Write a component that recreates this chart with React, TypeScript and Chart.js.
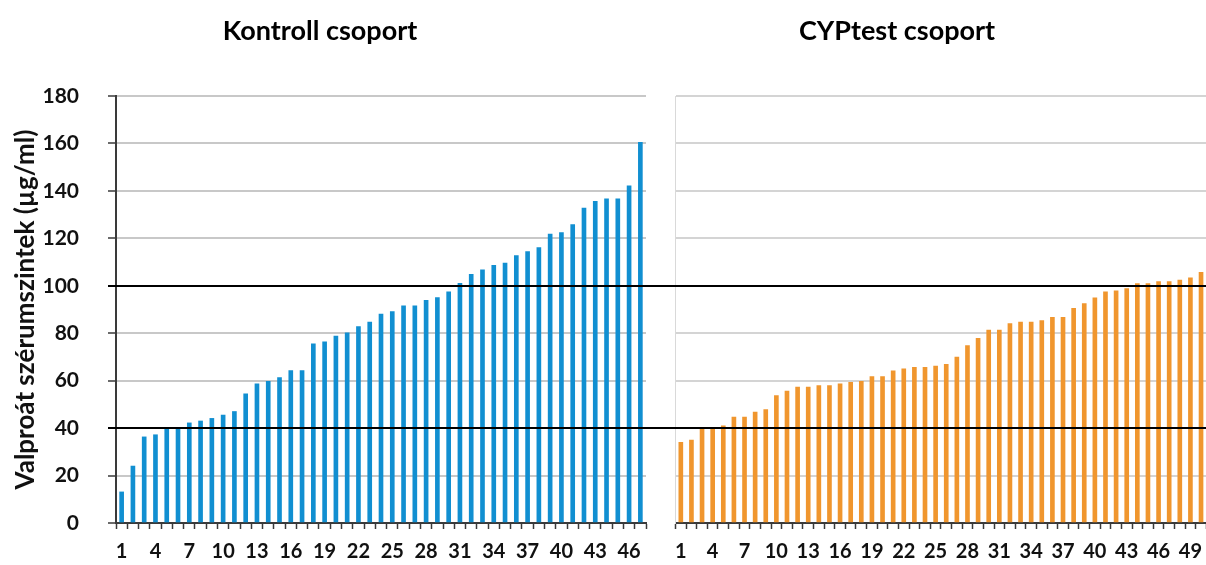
import React, { useEffect, useRef } from "react";
import { Chart, registerables } from "chart.js";

Chart.register(...registerables);

const TITLE_LEFT = "Kontroll csoport";
const TITLE_RIGHT = "CYPtest csoport";
const Y_TITLE = "Valproát szérumszintek (µg/ml)";

const KONTROLL_VALUES = [
  13.1, 24, 36.3, 37.2, 40.3, 40.3, 42.2, 43, 44.1, 45.5, 47, 54.4, 58.7, 59.7,
  61.3, 64.2, 64.2, 75.5, 76.4, 78.8, 80.2, 82.8, 84.7, 88.1, 89.1, 91.5, 91.5,
  93.9, 95, 97.4, 101, 104.8, 106.7, 108.6, 109.6, 112.7, 114.4, 116.1, 121.8,
  122.4, 125.8, 132.8, 135.6, 136.6, 136.6, 142.1, 160.5,
];

const CYP_VALUES = [
  34, 35, 39.8, 40.2, 41, 44.7, 44.7, 46.8, 47.8, 53.7, 55.6, 57.3, 57.3, 57.9,
  57.9, 58.7, 59.3, 59.7, 61.7, 61.7, 64.1, 65, 65.6, 65.6, 66.2, 66.9, 69.9,
  74.8, 77.8, 81.3, 81.3, 84.1, 84.7, 84.7, 85.3, 86.7, 86.7, 90.5, 92.5, 94.9,
  97.4, 97.9, 98.8, 100.9, 100.9, 101.8, 101.8, 102.4, 103.4, 105.7,
];

const KONTROLL_LABELS = KONTROLL_VALUES.map((_, i) => String(i + 1));
const CYP_LABELS = CYP_VALUES.map((_, i) => String(i + 1));

const REF_LINES = [40, 100];
const Y_MIN = 0;
const Y_MAX = 180;
const Y_STEP = 20;

const FONT = "Lato, 'Open Sans', sans-serif";

const refLinePlugin = {
  id: "refLines",
  afterDatasetsDraw(chart: any, _args: any, opts: any) {
    const y = chart.scales.y;
    const ctx = chart.ctx;
    ctx.save();
    ctx.strokeStyle = "#000";
    ctx.lineWidth = 2;
    const startX = opts.fromAxis ? chart.chartArea.left - 8 : 0;
    for (const v of REF_LINES) {
      const py = Math.round(y.getPixelForValue(v));
      ctx.beginPath();
      ctx.moveTo(startX, py);
      ctx.lineTo(chart.width, py);
      ctx.stroke();
    }
    ctx.restore();
  },
};

const panelTitlePlugin = {
  id: "panelTitle",
  afterDraw(chart: any, _args: any, opts: any) {
    const ctx = chart.ctx;
    ctx.save();
    ctx.font = `bold 27px ${FONT}`;
    ctx.fillStyle = "#000";
    ctx.textAlign = "center";
    ctx.textBaseline = "middle";
    ctx.fillText(opts.text, opts.x, opts.y);
    ctx.restore();
  },
};

function makeConfig(
  labels: string[],
  values: number[],
  color: string,
  left: boolean,
  titleText: string,
  titleX: number
): any {
  return {
    type: "bar",
    data: {
      labels,
      datasets: [
        {
          data: values,
          backgroundColor: color,
          borderWidth: 0,
          barThickness: 4,
        },
      ],
    },
    plugins: [refLinePlugin, panelTitlePlugin],
    options: {
      responsive: false,
      animation: false,
      devicePixelRatio: 1,
      layout: {
        padding: { top: 96, bottom: 0, left: left ? 0 : 8, right: left ? 26 : 0 },
      },
      plugins: {
        legend: { display: false },
        tooltip: { enabled: false },
        title: { display: false },
        refLines: { fromAxis: left },
        panelTitle: { text: titleText, x: titleX, y: 31 },
      },
      scales: {
        x: {
          offset: true,
          grid: {
            offset: true,
            drawOnChartArea: false,
            drawTicks: true,
            tickLength: 6,
            tickColor: "#3a3a3a",
            tickWidth: 1.5,
          },
          border: { color: "#3a3a3a", width: 2 },
          ticks: {
            autoSkip: false,
            maxRotation: 0,
            minRotation: 0,
            padding: 11,
            color: "#111",
            font: { family: FONT, size: 20, weight: "bold" },
            callback: (_v: any, i: number) => (i % 3 === 0 ? labels[i] : ""),
          },
          afterFit: (s: any) => {
            s.height = 42;
          },
        },
        y: {
          min: Y_MIN,
          max: Y_MAX,
          grid: {
            color: left ? "#c8c8c8" : "#d4d4d4",
            lineWidth: 2,
            drawTicks: left,
            tickLength: 8,
            tickColor: "#3a3a3a",
            tickWidth: 1.5,
          },
          border: left
            ? { color: "#3a3a3a", width: 2 }
            : { color: "#d9d9d9", width: 1 },
          ticks: {
            display: left,
            stepSize: Y_STEP,
            padding: 29,
            color: "#111",
            font: { family: FONT, size: 21, weight: "bold" },
          },
          title: {
            display: left,
            text: Y_TITLE,
            color: "#111",
            font: { family: FONT, size: 26, weight: "bold" },
            padding: { top: 10, bottom: 0 },
          },
          afterFit: (s: any) => {
            s.width = left ? 116 : 0;
          },
        },
      },
    },
  };
}

function Panel(props: {
  left: number;
  width: number;
  labels: string[];
  values: number[];
  color: string;
  isLeft: boolean;
  title: string;
  titleX: number;
}) {
  const ref = useRef<HTMLCanvasElement | null>(null);
  useEffect(() => {
    if (!ref.current) return;
    const chart = new Chart(
      ref.current,
      makeConfig(props.labels, props.values, props.color, props.isLeft, props.title, props.titleX)
    );
    return () => chart.destroy();
  }, []);
  return (
    <div style={{ position: "absolute", left: props.left, top: 0, width: props.width, height: 565 }}>
      <canvas ref={ref} width={props.width} height={565} style={{ display: "block" }} />
    </div>
  );
}

export default function App() {
  return (
    <div
      style={{
        position: "fixed",
        left: 0,
        top: 0,
        width: 1206,
        height: 565,
        overflow: "hidden",
        background: "#fff",
      }}
    >
      <Panel
        left={0}
        width={672}
        labels={KONTROLL_LABELS}
        values={KONTROLL_VALUES}
        color="#118fd1"
        isLeft={true}
        title={TITLE_LEFT}
        titleX={320}
      />
      <Panel
        left={664}
        width={548}
        labels={CYP_LABELS}
        values={CYP_VALUES}
        color="#f0962e"
        isLeft={false}
        title={TITLE_RIGHT}
        titleX={233}
      />
    </div>
  );
}
